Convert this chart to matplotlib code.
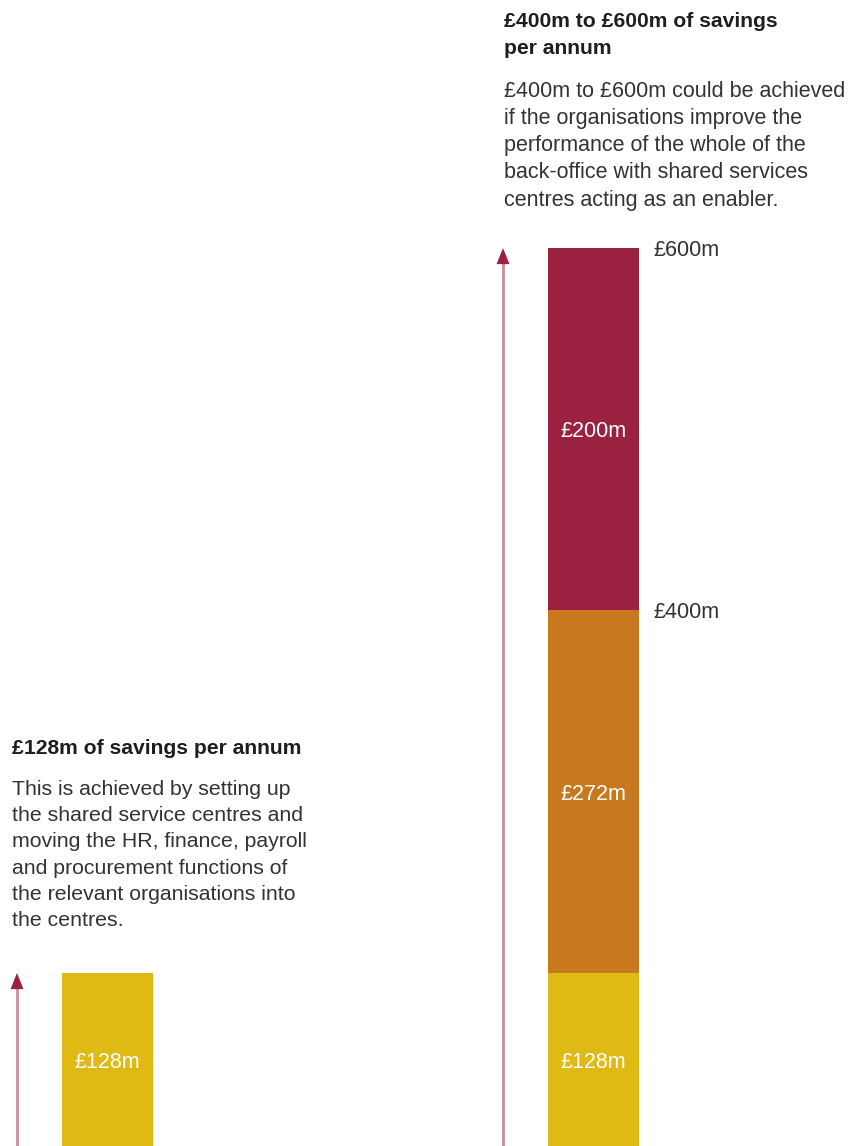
import numpy as np
import matplotlib
matplotlib.use("Agg")
import matplotlib.pyplot as plt

# ── Data ──────────────────────────────────────────
SEGMENT_LABELS = ["£128m", "£272m", "£200m"]
LEFT_VALUES    = [128]
RIGHT_VALUES   = [128, 272, 200]
LEVEL_VALUES   = [400, 600]
LEVEL_LABELS   = ["£400m", "£600m"]

LEFT_TITLE  = "£128m of savings per annum"
LEFT_BODY   = ("This is achieved by setting up\nthe shared service centres and\n"
               "moving the HR, finance, payroll\nand procurement functions of\n"
               "the relevant organisations into\nthe centres.")
RIGHT_TITLE = "£400m to £600m of savings\nper annum"
RIGHT_BODY  = ("£400m to £600m could be achieved\nif the organisations improve the\n"
               "performance of the whole of the\nback-office with shared services\n"
               "centres acting as an enabler.")

COLORS    = ["#dfba14", "#c8791f", "#9b2140"]
ARROW_DK  = "#9b2140"
ARROW_LT  = "#cf8b9c"
TXT_DARK  = "#1e1e1e"
TXT_BODY  = "#333333"

plt.rcParams["font.family"] = ["Liberation Sans", "DejaVu Sans"]

W, H = 849, 1146
fig = plt.figure(figsize=(W / 100, H / 100), dpi=100)

# schematic (not to scale) vertical axis: piecewise-linear scale
brk_v = [0, 128, 400, 600]
brk_p = [0, 173, 536, 898]
fwd = lambda v: np.interp(v, brk_v, brk_p)
inv = lambda p: np.interp(p, brk_p, brk_v)

ax = fig.add_axes([0, 0, 1, 898 / H])
ax.set_yscale("function", functions=(fwd, inv))
ax.set_xlim(0, W)
ax.set_ylim(0, 600)
ax.axis("off")

def stacked(x, vals):
    bottom = 0
    for v, c, lab in zip(vals, COLORS, SEGMENT_LABELS):
        ax.bar(x, v, bottom=bottom, width=91, color=c, align="edge")
        ax.text(x + 45.5, bottom + v / 2, lab, color="white", fontsize=15.5,
                ha="center", va="center_baseline")
        bottom += v
    return bottom

def arrow(x, top):
    ax.plot([x, x], [0, top - 5], color=ARROW_LT, lw=2, solid_capstyle="butt")
    ax.annotate("", xy=(x, top), xytext=(x, top - 1),
                arrowprops=dict(arrowstyle="-|>,head_length=0.8,head_width=0.32",
                                mutation_scale=14.5, color=ARROW_DK, lw=0,
                                shrinkA=0, shrinkB=0))

top_l = stacked(62, LEFT_VALUES)
top_r = stacked(548, RIGHT_VALUES)
arrow(17, top_l)
arrow(503, top_r)

for v, lab in zip(LEVEL_VALUES, LEVEL_LABELS):
    ax.text(653, v, lab, color=TXT_BODY, fontsize=15.5, ha="left",
            va="center_baseline")

def ftext(x, y, s, **kw):
    fig.text(x / W, 1 - y / H, s, ha="left", va="top", **kw)

ftext(504, 12, RIGHT_TITLE, fontsize=15.2, fontweight="bold", color=TXT_DARK,
      linespacing=1.55)
ftext(504, 81, RIGHT_BODY, fontsize=15.5, color=TXT_BODY, linespacing=1.385)
ftext(12, 739, LEFT_TITLE, fontsize=15.2, fontweight="bold", color=TXT_DARK)
ftext(12, 780, LEFT_BODY, fontsize=15.3, color=TXT_BODY, linespacing=1.48)

fig.savefig("out.png", dpi=100)
